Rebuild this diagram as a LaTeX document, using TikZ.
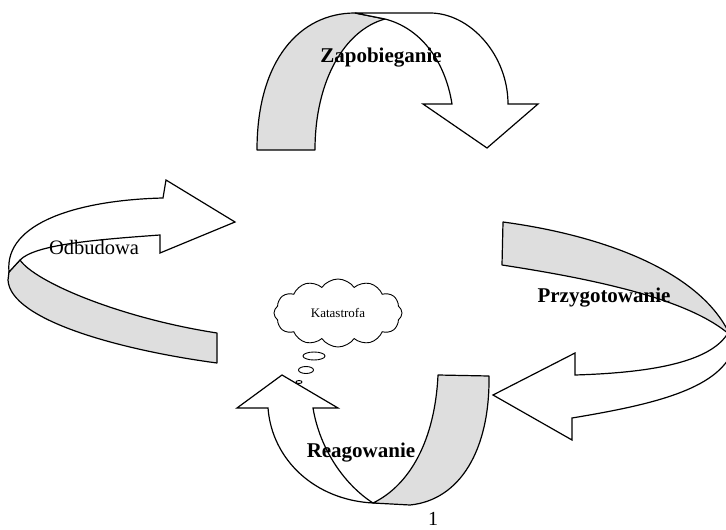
\documentclass[tikz,border=0pt]{standalone}
\usepackage{fontspec}
\setmainfont{Liberation Serif}
\usetikzlibrary{shapes.symbols,shapes.geometric}
\begin{document}
\begin{tikzpicture}[x=1pt,y=-1pt,
  backband/.style={draw=black, line width=1.2pt, fill=black!13, line join=round},
  frontarrow/.style={draw=black, line width=1.2pt, fill=white, line join=miter},
  biglabel/.style={font=\fontsize{21}{25}\selectfont\bfseries, inner sep=0pt},
  reglabel/.style={font=\fontsize{20.5}{24}\selectfont, inner sep=0pt},
  bubble/.style={draw=black, line width=0.9pt, ellipse, inner sep=0pt}]
\useasboundingbox (0,0) rectangle (726,530);
% ---- top arrow (Zapobieganie)
\draw[backband] (257,150) .. controls (257,60) and (300,13) .. (355,13) -- (385,19)
  .. controls (345,30) and (315,80) .. (315,150) -- cycle;
\draw[frontarrow] (355,13) -- (430,13) .. controls (470,13) and (508,55) .. (508,104)
  -- (538,104) -- (487,148) -- (423,104) -- (452,104)
  .. controls (445,60) and (420,28) .. (385,19) -- cycle;
\node[biglabel] (zap) at (381,58) {Zapobieganie};
% ---- left arrow (Odbudowa)
\draw[backband] (20,260) .. controls (35,282) and (120,318) .. (217,333) -- (217,363)
  .. controls (120,350) and (10,320) .. (8,280) -- (9,272) -- cycle;
\draw[frontarrow] (9,272) .. controls (4,222) and (80,200) .. (163,198) -- (166,180)
  -- (235,222) -- (160,253) -- (160,235) .. controls (90,240) and (35,245) .. (20,260) -- cycle;
\node[reglabel] (odb) at (94,247) {Odbudowa};
% ---- right arrow (Przygotowanie)
\draw[backband] (503,222) .. controls (600,235) and (700,270) .. (730,335)
  .. controls (690,300) and (600,280) .. (502,265) -- cycle;
\draw[frontarrow] (726,336) .. controls (705,365) and (640,373) .. (575,375) -- (575,353)
  -- (493,395) -- (572,440) -- (572,418) .. controls (650,405) and (718,390) .. (733,350) -- cycle;
\node[biglabel] (prz) at (604,298) {Przygotowanie};
% ---- bottom arrow (Reagowanie)
\draw[backband] (438,375) -- (489,376) .. controls (490,450) and (460,500) .. (410,505)
  -- (373,503) .. controls (410,485) and (435,440) .. (438,375) -- cycle;
\draw[frontarrow] (373,503) .. controls (315,500) and (272,460) .. (268,408) -- (237,408)
  -- (282,375) -- (338,408) -- (313,408) .. controls (320,450) and (345,485) .. (373,503) -- cycle;
\node[biglabel] (rea) at (361,453) {Reagowanie};
% ---- cloud
\node[cloud, draw=black, line width=0.9pt, cloud puffs=12, cloud puff arc=110, cloud ignores aspect,
  minimum width=128pt, minimum height=68pt, inner sep=0pt,
  font=\fontsize{13}{15}\selectfont] (kat) at (338,313) {Katastrofa};
\node[bubble, minimum width=22pt, minimum height=8pt] (b1) at (314,356) {};
\node[bubble, minimum width=15pt, minimum height=7pt] (b2) at (306,370) {};
\node[bubble, minimum width=6pt, minimum height=3pt] (b3) at (299,382) {};
% ---- page number
\node[anchor=base, inner sep=0pt, font=\fontsize{20}{24}\selectfont] (pg) at (433,525) {1};
\end{tikzpicture}
\end{document}
